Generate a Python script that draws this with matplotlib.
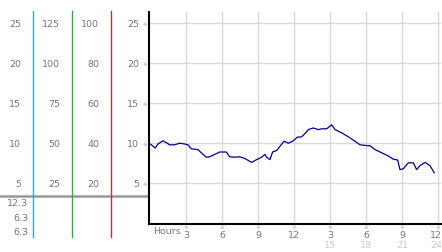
import matplotlib
matplotlib.use('Agg')
import matplotlib.pyplot as plt
import matplotlib.transforms as mtransforms

# dew point readings (hour of day, value)
hours = [0.0, 0.11, 0.44, 0.67, 1.08, 1.33, 1.64, 2.06, 2.47, 2.89, 3.17, 3.44, 4.0, 4.28,
         4.69, 4.97, 5.39, 5.81, 6.36, 6.64, 7.06, 7.47, 7.89, 8.47, 8.89, 9.31, 9.58, 9.72,
         10.0, 10.22, 10.56, 10.83, 11.17, 11.53, 11.94, 12.28, 12.64, 12.92, 13.19, 13.61,
         14.03, 14.31, 14.72, 15.14, 15.42, 15.97, 16.53, 17.08, 17.5, 18.06, 18.33, 18.75,
         19.31, 19.86, 20.28, 20.64, 20.83, 21.11, 21.53, 21.94, 22.22, 22.5, 22.92, 23.33, 23.69]
dew_point = [9.9, 9.8, 9.4, 9.9, 10.3, 10.1, 9.8, 9.8, 10.0, 9.9, 9.8, 9.3, 9.2, 8.8,
             8.25, 8.3, 8.6, 8.9, 8.9, 8.3, 8.25, 8.3, 8.1, 7.6, 7.95, 8.25, 8.6, 8.25,
             7.95, 8.9, 9.1, 9.6, 10.25, 10.0, 10.3, 10.75, 10.8, 11.2, 11.7, 11.9,
             11.7, 11.8, 11.8, 12.3, 11.7, 11.3, 10.8, 10.25, 9.8, 9.7, 9.7, 9.2,
             8.8, 8.4, 8.0, 7.9, 6.7, 6.8, 7.55, 7.55, 6.7, 7.2, 7.6, 7.2, 6.3]

# left-side scale columns
y_ticks = [25, 20, 15, 10, 5]
col1 = ['25', '20', '15', '10', '5']
col2 = ['125', '100', '75', '50', '25']
col3 = ['100', '80', '60', '40', '20']
col4 = ['25', '20', '15', '10', '5']
stats = ['12.3', '6.3', '6.3']

x_ticks = [3, 6, 9, 12, 15, 18, 21, 24]
x_labels = ['3', '6', '9', '12', '3', '6', '9', '12']
x_labels2 = ['', '', '', '', '15', '18', '21', '24']

W, H = 442, 253
plt.rcParams['font.family'] = 'DejaVu Sans'
fig = plt.figure(figsize=(W / 100, H / 100), dpi=100)

ax = fig.add_axes([149 / W, (H - 225) / H, 292 / W, 212 / H])
ax.plot(hours, dew_point, color='#000099', linewidth=0.9)
ax.set_xlim(-0.08, 24.25)
ax.set_ylim(-0.1, 26.4)
ax.set_xticks(x_ticks)
ax.set_yticks(y_ticks)
ax.grid(True, color='#d9d9d9', linewidth=1.0)
ax.tick_params(length=0, labelleft=False, labelbottom=False)
for s in ['top', 'right']:
    ax.spines[s].set_visible(False)
ax.spines['left'].set_color('black')
ax.spines['left'].set_linewidth(1.5)
ax.spines['bottom'].set_color('black')
ax.spines['bottom'].set_linewidth(1.5)

# overlay axes in pixel coordinates for the left panel decorations
bg = fig.add_axes([0, 0, 1, 1], zorder=-1)
bg.set_xlim(0, W)
bg.set_ylim(H, 0)
bg.axis('off')

bg.plot([0, 149], [197, 197], color='#999999', linewidth=1.8)
bg.plot([33, 33], [12, 238], color='#33aacc', linewidth=1.0)
bg.plot([72, 72], [12, 238], color='#33aa33', linewidth=1.0)
bg.plot([111, 111], [12, 238], color='#bb3333', linewidth=1.0)

# y labels placed with main axis data y
trans = mtransforms.blended_transform_factory(bg.transData, ax.transData)
gray = '#777777'
fs = 6.8
for i, v in enumerate(y_ticks):
    bg.text(21, v, col1[i], transform=trans, ha='right', va='center', fontsize=fs, color=gray)
    bg.text(60, v, col2[i], transform=trans, ha='right', va='center', fontsize=fs, color=gray)
    bg.text(99, v, col3[i], transform=trans, ha='right', va='center', fontsize=fs, color=gray)
    bg.text(139, v, col4[i], transform=trans, ha='right', va='center', fontsize=fs, color=gray)
    bg.text(145, v, '※', transform=trans, ha='center', va='center', fontsize=4, color='#aaaaaa')

for i, s in enumerate(stats):
    bg.text(28, 204 + i * 14.3, s, ha='right', va='center', fontsize=fs, color=gray)

# x labels
transx = mtransforms.blended_transform_factory(ax.transData, bg.transData)
shift = mtransforms.ScaledTranslation(-2 / 100, 0, fig.dpi_scale_trans)
for i, t in enumerate(x_ticks):
    tr = transx + shift if t == x_ticks[-1] else transx
    bg.text(t, 228, '※', transform=transx, ha='center', va='center', fontsize=4, color='#aaaaaa')
    bg.text(t, 236, x_labels[i], transform=tr, ha='center', va='center', fontsize=fs,
            color=gray)
    if x_labels2[i]:
        bg.text(t, 245.5, x_labels2[i], transform=tr, ha='center', va='center', fontsize=fs,
                color='#cccccc')
bg.text(153, 232, 'Hours', ha='left', va='center', fontsize=fs, color=gray)

# legend
bg.plot([160], [20], marker='o', markersize=4, color='#bbbbbb', markeredgecolor='#999999',
        markeredgewidth=0.6)
bg.text(164, 20, 'Dew Point 01/20/05', ha='left', va='center', fontsize=fs, color='#2233aa')

fig.savefig('out.png', dpi=100)
